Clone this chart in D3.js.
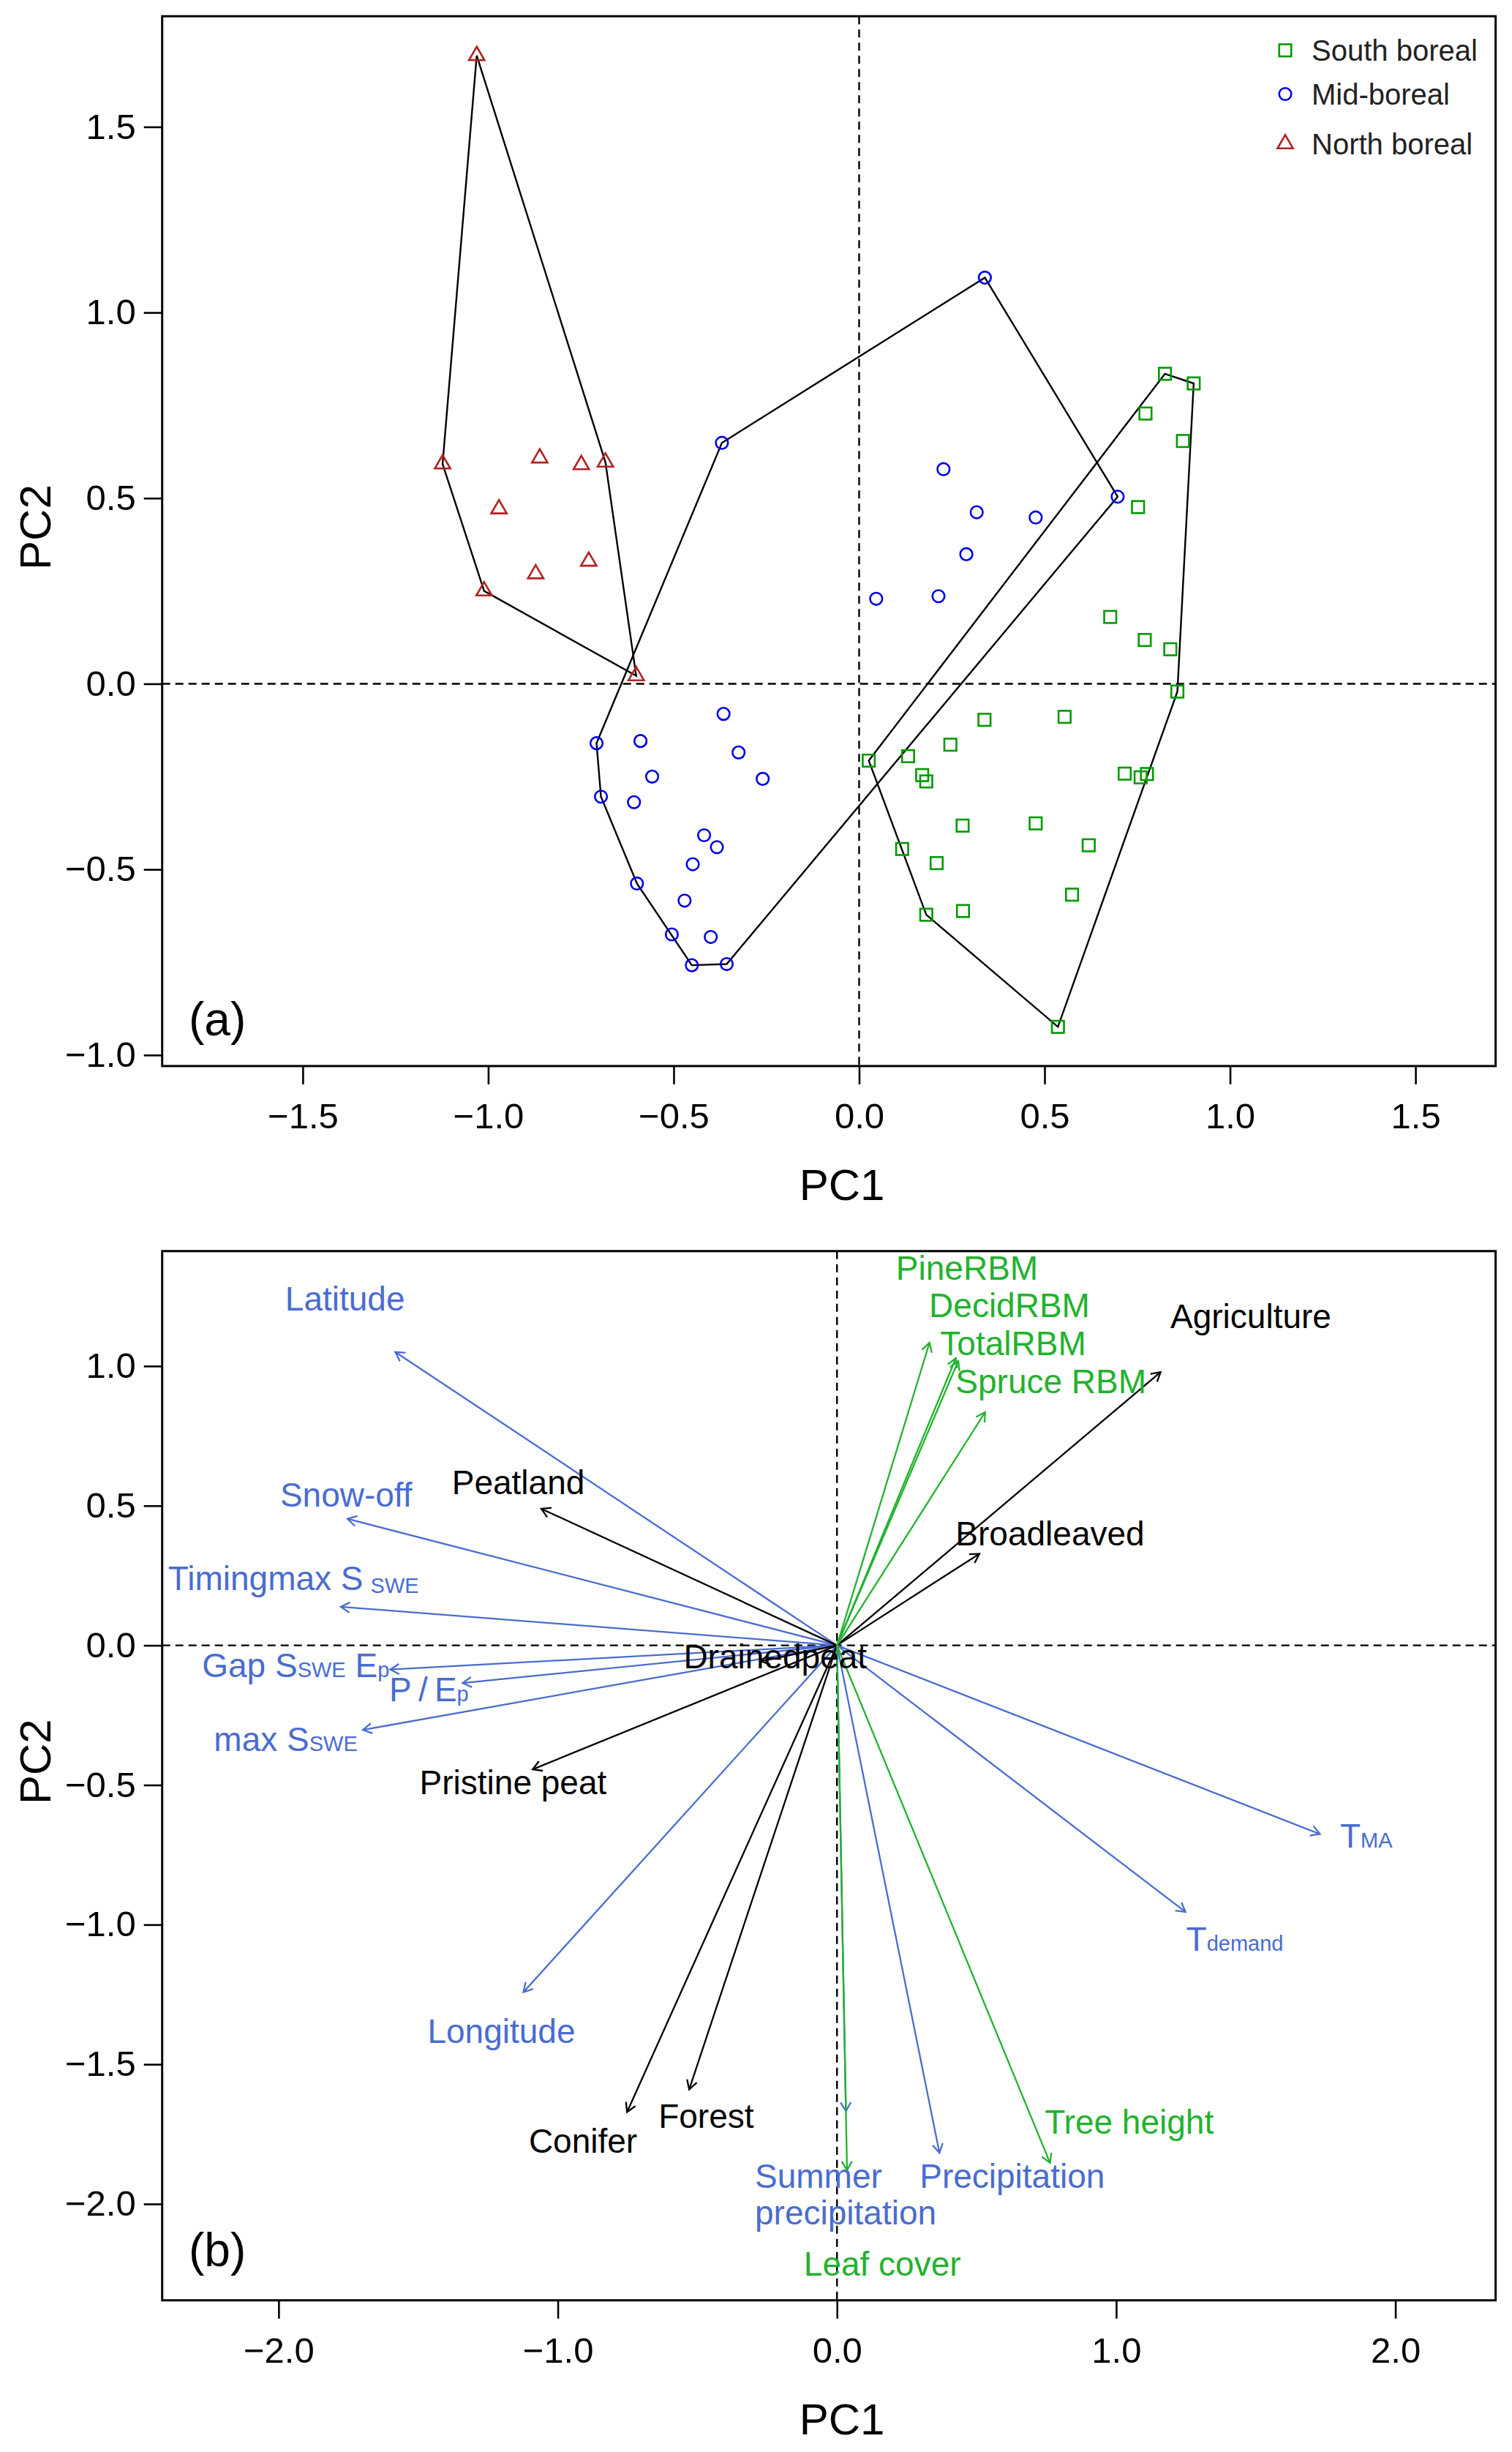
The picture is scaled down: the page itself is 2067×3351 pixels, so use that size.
<!DOCTYPE html>
<html><head><meta charset="utf-8">
<script src="https://cdn.jsdelivr.net/npm/d3@7"></script>
<style>
body{margin:0;background:#fff}
svg{display:block}
text{font-family:"Liberation Sans",Arial,Helvetica,sans-serif}
</style>
</head><body>
<svg id="chart" width="2067" height="3351"></svg>
<script>
// ---------------- DATA ----------------
// Panel (a): PCA site scores [PC1, PC2]
const southBoreal = [[0.8245,0.835],[0.902,0.809],[0.772,0.728],[0.873,0.654],[0.752,0.476],[0.677,0.180],[0.770,0.118],[0.839,0.093],[0.858,-0.021],[0.338,-0.097],[0.554,-0.089],[0.026,-0.207],[0.132,-0.195],[0.246,-0.164],[0.170,-0.246],[0.181,-0.263],[0.716,-0.242],[0.759,-0.252],[0.776,-0.243],[0.279,-0.382],[0.476,-0.376],[0.619,-0.435],[0.116,-0.445],[0.209,-0.483],[0.574,-0.568],[0.181,-0.622],[0.280,-0.612],[0.536,-0.924]];
const midBoreal = [[-0.370,0.649],[0.339,1.094],[0.697,0.504],[0.2275,0.578],[0.317,0.462],[0.476,0.448],[0.289,0.349],[0.046,0.229],[0.214,0.236],[-0.3655,-0.081],[-0.708,-0.160],[-0.5895,-0.154],[-0.325,-0.185],[-0.558,-0.250],[-0.260,-0.256],[-0.696,-0.304],[-0.607,-0.319],[-0.418,-0.408],[-0.3835,-0.440],[-0.4485,-0.486],[-0.599,-0.538],[-0.4706,-0.584],[-0.505,-0.675],[-0.400,-0.682],[-0.451,-0.758],[-0.357,-0.755]];
const northBoreal = [[-1.031,1.692],[-1.123,0.592],[-0.861,0.608],[-0.749,0.590],[-0.684,0.597],[-0.971,0.471],[-0.872,0.296],[-0.729,0.330],[-1.011,0.250],[-0.601,0.0215]];
const groupNames = ["South boreal","Mid-boreal","North boreal"];

const topXTicks = [-1.5,-1.0,-0.5,0.0,0.5,1.0,1.5];
const topYTicks = [-1.0,-0.5,0.0,0.5,1.0,1.5];
const botXTicks = [-2.0,-1.0,0.0,1.0,2.0];
const botYTicks = [-2.0,-1.5,-1.0,-0.5,0.0,0.5,1.0];

// Panel (b): variable loadings (arrow tips) and label positions
const varNames = ["Latitude","Snow-off","TimingmaxSSWE","GapSSWEEp","P/Ep","maxSSWE","Longitude","TMA","Tdemand","Summer precipitation","Precipitation",
                  "Peatland","Pristine peat","Drainedpeat","Agriculture","Broadleaved","Conifer","Forest",
                  "PineRBM","DecidRBM","TotalRBM","SpruceRBM","Tree height","Leaf cover"];
const varType = ["env","env","env","env","env","env","env","env","env","env","env",
                 "land","land","land","land","land","land","land",
                 "veg","veg","veg","veg","veg","veg"];
const varPC1 = [-1.582,-1.753,-1.777,-1.600,-1.341,-1.698,-1.123,1.7297,1.248,0.032,0.367,
                -1.059,-1.090,-0.273,1.159,0.510,-0.752,-0.5295,
                0.3314,0.4257,0.4344,0.5305,0.763,0.036];
const varPC2 = [1.050,0.453,0.138,-0.0867,-0.135,-0.3025,-1.2415,-0.6757,-0.9545,-1.668,-1.817,
                0.489,-0.444,-0.057,0.9785,0.328,-1.671,-1.590,
                1.0836,1.0285,1.018,0.8347,-1.853,-1.879];
const labelPC1 = [-1.762,-1.758,-1.9466,-1.9387,-1.4616,-1.9746,-1.202,1.8955,1.4247,-0.2939,0.6277,
                  -1.1415,-1.160,-0.2214,1.4823,0.7632,-0.9096,-0.4687,
                  0.4658,0.6178,0.6309,0.7663,1.0466,0.1624];
const labelPC2 = [1.199,0.4957,0.1988,-0.1129,-0.2002,-0.3791,-1.4223,-0.7254,-1.0922,-1.9424,-1.9413,
                  0.541,-0.534,-0.0823,1.1347,0.3579,-1.8174,-1.7278,
                  1.3089,1.1750,1.0398,0.9030,-1.7493,-2.2567];
// label text: lines of [text, subscript?]
const labelText = [
  [[["Latitude",0]]],
  [[["Snow-off",0]]],
  [[["Timingmax S",0],["SWE",2]]],
  [[["Gap S",0],["SWE",1],[" E",0],["p",1]]],
  [[["P\u2009/\u2009E",0],["p",1]]],
  [[["max S",0],["SWE",1]]],
  [[["Longitude",0]]],
  [[["T",0],["MA",1]]],
  [[["T",0],["demand",1]]],
  [[["Summer",0]],[["precipitation",0]]],
  [[["Precipitation",0]]],
  [[["Peatland",0]]],
  [[["Pristine peat",0]]],
  [[["Drainedpeat",0]]],
  [[["Agriculture",0]]],
  [[["Broadleaved",0]]],
  [[["Conifer",0]]],
  [[["Forest",0]]],
  [[["PineRBM",0]]],
  [[["DecidRBM",0]]],
  [[["TotalRBM",0]]],
  [[["Spruce RBM",0]]],
  [[["Tree height",0]]],
  [[["Leaf cover",0]]]
];

// ---------------- STYLE / LAYOUT ----------------
const svg = d3.select("#chart");
const L = 221.7, R = 2044.6;
const colGroup = ["#009a00","#0000e6","#b22222"];
const colType = {env:"#4a6ccf", land:"#000000", veg:"#22b22e"};
const fmt = d => (d < 0 ? "\u2212" : "") + Math.abs(d).toFixed(1);
const tickFS = 49, titleFS = 60, labFS = 46, subFS = 29, lineGap = 50;

function panel(xs, ys, xt, yt, tag, tagBaseline){
  const g = svg.append("g");
  const [y1, y0] = ys.range();
  g.append("line").attr("x1",L).attr("x2",R).attr("y1",ys(0)).attr("y2",ys(0))
    .attr("stroke","#000").attr("stroke-width",2.4).attr("stroke-dasharray","11,7");
  g.append("line").attr("x1",xs(0)).attr("x2",xs(0)).attr("y1",y0).attr("y2",y1)
    .attr("stroke","#000").attr("stroke-width",2.4).attr("stroke-dasharray","11,7");
  const ax = g.append("g").attr("transform",`translate(0,${y1})`)
    .call(d3.axisBottom(xs).tickValues(xt).tickFormat(fmt).tickSize(25).tickPadding(25.7));
  const ay = g.append("g").attr("transform",`translate(${L},0)`)
    .call(d3.axisLeft(ys).tickValues(yt).tickFormat(fmt).tickSize(25).tickPadding(11));
  [ax, ay].forEach(a => {
    a.select(".domain").remove();
    a.attr("font-family",null).attr("font-size",null);
    a.selectAll("line").attr("stroke","#000").attr("stroke-width",2.6);
    a.selectAll("text").attr("fill","#000").style("font-size",tickFS+"px");
  });
  g.append("rect").attr("x",L).attr("y",y0).attr("width",R-L).attr("height",y1-y0)
    .attr("fill","none").attr("stroke","#000").attr("stroke-width",3);
  g.append("text").attr("x",1151).attr("y",y1+183).attr("text-anchor","middle")
    .style("font-size",titleFS+"px").text("PC1");
  const cy = (y0+y1)/2 - 19;
  g.append("text").attr("transform",`translate(68.7,${cy}) rotate(-90)`).attr("text-anchor","middle")
    .style("font-size",titleFS+"px").text("PC2");
  g.append("text").attr("x",258).attr("y",tagBaseline).style("font-size","64px").text(tag);
  return g;
}

// ---------------- PANEL (a) ----------------
const xA = d3.scaleLinear().domain([-1.879,1.716]).range([L,R]);
const yA = d3.scaleLinear().domain([-1.0296,1.798]).range([1456.9,22.2]);
const gA = panel(xA, yA, topXTicks, topYTicks, "(a)", 1415);

const groups = [southBoreal, midBoreal, northBoreal];
const sq = 16.5, cr = 8.3, tx = 10.6, tr = tx/0.866;
function marker(sel, k, x, y){
  if(k===0){
    sel.append("rect").attr("x",x-sq/2).attr("y",y-sq/2).attr("width",sq).attr("height",sq)
      .attr("fill","none").attr("stroke",colGroup[0]).attr("stroke-width",2.6);
  } else if(k===1){
    sel.append("circle").attr("cx",x).attr("cy",y).attr("r",cr)
      .attr("fill","none").attr("stroke",colGroup[1]).attr("stroke-width",2.6);
  } else {
    sel.append("path").attr("d",`M${x},${y-tr}L${x+tx},${y+tr/2}L${x-tx},${y+tr/2}Z`)
      .attr("fill","none").attr("stroke",colGroup[2]).attr("stroke-width",2.6);
  }
}
groups.forEach((pts,k) => {
  const px = pts.map(p => [xA(p[0]), yA(p[1])]);
  const hull = d3.polygonHull(px);
  gA.append("path").attr("d","M"+hull.map(p=>p.join(",")).join("L")+"Z")
    .attr("fill","none").attr("stroke","#000").attr("stroke-width",2.4).attr("stroke-linejoin","miter");
});
groups.forEach((pts,k) => {
  pts.forEach(p => marker(gA, k, xA(p[0]), yA(p[1])));
});
const legY = [68.8,128.5,196.7];
groupNames.forEach((n,k) => {
  marker(gA, k, 1757, legY[k]);
  gA.append("text").attr("x",1793).attr("y",legY[k]+14.3).attr("fill","#222")
    .style("font-size","40px").text(n);
});

// ---------------- PANEL (b) ----------------
const xB = d3.scaleLinear().domain([-2.417,2.359]).range([L,R]);
const yB = d3.scaleLinear().domain([-2.345,1.4116]).range([3143.7,1709.8]);
const gB = panel(xB, yB, botXTicks, botYTicks, "(b)", 3097);

const head = 14, ang = Math.PI/6;
varNames.forEach((n,i) => {
  const x0 = xB(0), y0 = yB(0), x1 = xB(varPC1[i]), y1 = yB(varPC2[i]);
  const th = Math.atan2(y1-y0, x1-x0);
  const c = colType[varType[i]];
  gB.append("line").attr("x1",x0).attr("y1",y0).attr("x2",x1).attr("y2",y1)
    .attr("stroke",c).attr("stroke-width",2.3);
  const a1 = [x1 - head*Math.cos(th-ang), y1 - head*Math.sin(th-ang)];
  const a2 = [x1 - head*Math.cos(th+ang), y1 - head*Math.sin(th+ang)];
  gB.append("path").attr("d",`M${a1}L${x1},${y1}L${a2}`)
    .attr("fill","none").attr("stroke",c).attr("stroke-width",2.3);
});
varNames.forEach((n,i) => {
  const c = colType[varType[i]];
  const lines = labelText[i];
  const anchor = lines.length > 1 ? "start" : "middle";
  const lx = xB(labelPC1[i]), ly = yB(labelPC2[i]);
  const t = gB.append("text").attr("x",lx).attr("y",ly)
    .attr("text-anchor",anchor).attr("fill",c).style("font-size",labFS+"px");
  lines.forEach((parts, li) => {
    let prevShift = 0;
    parts.forEach((p, pi) => {
      const s = t.append("tspan").text(p[0]);
      if(li > 0 && pi === 0){ s.attr("x",lx).attr("dy",lineGap); }
      const shift = p[1]===2 ? 4 : 0;
      if(p[1]){
        s.style("font-size",subFS+"px");
        if(p[1]===2) s.attr("dx",10);
      }
      if(shift !== prevShift){ s.attr("dy", shift - prevShift); prevShift = shift; }
    });
  });
});
</script>
</body></html>
